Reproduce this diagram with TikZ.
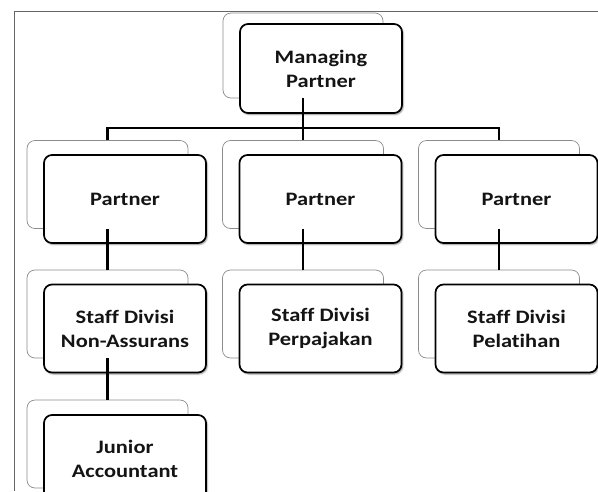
\documentclass[tikz,border=0pt]{standalone}
\usepackage{fontspec}
\newfontfamily\boxfont[FakeStretch=1.18,Ligatures=NoCommon]{Carlito}
\usetikzlibrary{shadows.blur}
\begin{document}
\begin{tikzpicture}[x=1pt,y=-1pt,
  backbox/.style={draw=black!45, line width=0.7pt, rounded corners=8pt,
    minimum width=161pt, minimum height=88pt, inner sep=0pt, fill=white},
  frontbox/.style={draw=black, line width=1.7pt, rounded corners=8pt,
    minimum width=162pt, minimum height=88pt, inner sep=0pt, fill=white,
    align=center, text=black!92,
    font=\boxfont\bfseries\fontsize{19}{24}\selectfont,
    blur shadow={shadow xshift=1.2pt, shadow yshift=-1.5pt,
      shadow blur steps=4, shadow opacity=45, shadow blur radius=1.5pt}},
  conn/.style={draw=black, line width=2.4pt},
  frame/.style={draw=black!60, line width=0.9pt}]
\useasboundingbox (0,0) rectangle (598,491);
\clip (0,0) rectangle (598,491);

% outer frame (top and left edges)
\coordinate (fTR) at (598,11);
\coordinate (fTL) at (14,11);
\coordinate (fBL) at (14,491);
\draw[frame] (fTR) -- (fTL) -- (fBL);

% back plates
\node[backbox, minimum width=160pt, minimum height=85pt] (mb) at (303,55.5) {};
\node[backbox] (p1b) at (107.5,184.5) {};
\node[backbox] (p2b) at (303,184.5) {};
\node[backbox] (p3b) at (499,184.5) {};
\node[backbox] (s1b) at (107.5,314) {};
\node[backbox] (s2b) at (303,314) {};
\node[backbox] (s3b) at (499,314) {};
\node[backbox] (jb)  at (107.5,444) {};

% front boxes with labels
\node[frontbox, minimum height=89pt] (m) at (321,68.5) {Managing\\Partner};
\node[frontbox] (p1) at (125,199) {Partner};
\node[frontbox] (p2) at (320.5,199) {Partner};
\node[frontbox] (p3) at (516.5,199) {Partner};
\node[frontbox] (s1) at (125,328.5) {Staff Divisi\\Non-Assurans};
\node[frontbox] (s2) at (320.5,328.5) {Staff Divisi\\Perpajakan};
\node[frontbox] (s3) at (516.5,328.5) {Staff Divisi\\Pelatihan};
\node[frontbox] (j)  at (125,459) {Junior\\Accountant};

% connectors
\coordinate (bus) at (303,128);
\draw[conn] (mb.south) -- (p2b.north);
\draw[conn] (p1b.north) |- (bus) -| (p3b.north);
\draw[conn] (p1b.south) -- (s1b.north);
\draw[conn] (p2b.south) -- (s2b.north);
\draw[conn] (p3b.south) -- (s3b.north);
\draw[conn] (s1b.south) -- (jb.north);
\end{tikzpicture}
\end{document}
